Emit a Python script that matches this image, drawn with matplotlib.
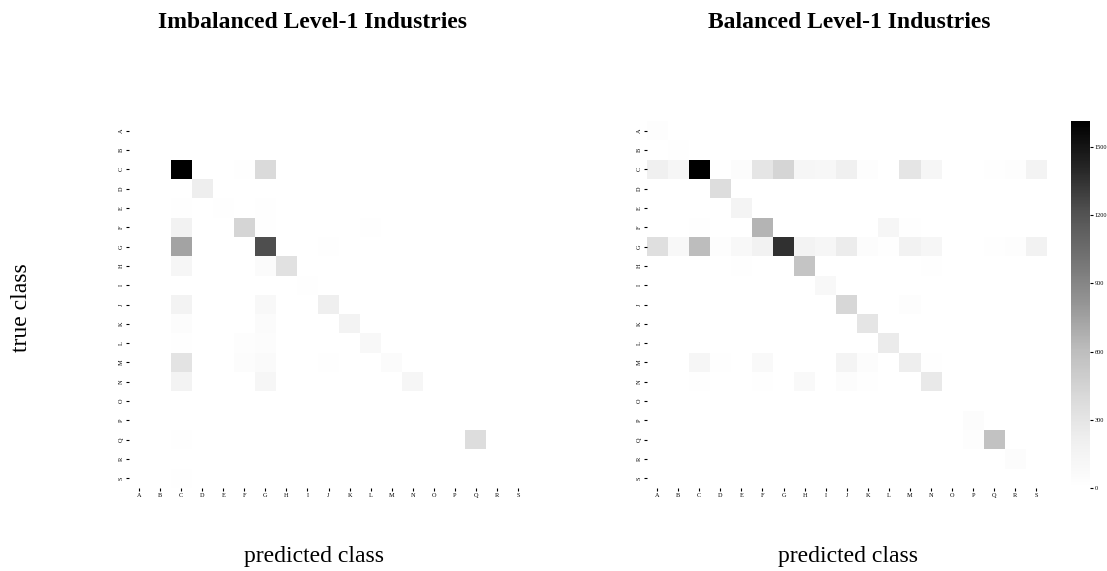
import numpy as np
import matplotlib
matplotlib.use("Agg")
import matplotlib.pyplot as plt

labels = list("ABCDEFGHIJKLMNOPQRS")

# Imbalanced confusion matrix (rows = true, cols = predicted)
imb_rows = {
    "A": {"G": 10},
    "B": {"C": 10},
    "C": {"C": 1610, "F": 20, "G": 400, "H": 5, "J": 5},
    "D": {"C": 10, "D": 220, "G": 5},
    "E": {"C": 20, "E": 25, "G": 20},
    "F": {"C": 180, "F": 430, "G": 15, "L": 15},
    "G": {"C": 740, "F": 5, "G": 1230, "J": 20, "Q": 10},
    "H": {"C": 130, "G": 60, "H": 340},
    "I": {"G": 5, "I": 20},
    "J": {"C": 170, "G": 100, "J": 210, "M": 5},
    "K": {"C": 50, "G": 55, "K": 170},
    "L": {"C": 20, "F": 30, "G": 40, "L": 100},
    "M": {"C": 320, "F": 40, "G": 70, "J": 20, "M": 60},
    "N": {"C": 160, "F": 8, "G": 120, "J": 5, "N": 130},
    "O": {},
    "P": {"P": 5, "Q": 5},
    "Q": {"C": 20, "G": 5, "Q": 370},
    "R": {"R": 5},
    "S": {"C": 20, "G": 5, "Q": 5},
}

# Balanced confusion matrix
bal_rows = {
    "A": {"A": 30},
    "B": {"B": 20},
    "C": {"A": 200, "B": 130, "C": 1610, "D": 10, "E": 40, "F": 300, "G": 430,
          "H": 130, "I": 110, "J": 200, "K": 30, "M": 300, "N": 130, "Q": 20,
          "R": 30, "S": 160},
    "D": {"D": 370, "O": 5},
    "E": {"B": 8, "E": 150},
    "F": {"C": 15, "F": 650, "H": 10, "L": 130, "M": 15, "S": 5},
    "G": {"A": 350, "B": 100, "C": 610, "D": 30, "E": 100, "F": 180, "G": 1360,
          "H": 160, "I": 130, "J": 240, "K": 40, "L": 20, "M": 180, "N": 130,
          "Q": 20, "R": 30, "S": 180},
    "H": {"A": 10, "E": 15, "H": 560, "M": 5, "N": 15},
    "I": {"I": 100},
    "J": {"C": 8, "H": 5, "J": 420, "K": 12, "M": 30, "S": 5},
    "K": {"C": 8, "J": 5, "K": 300},
    "L": {"F": 10, "L": 250},
    "M": {"C": 130, "D": 15, "F": 80, "H": 10, "J": 150, "K": 40, "M": 220,
          "N": 15, "S": 8},
    "N": {"C": 15, "F": 20, "H": 80, "J": 40, "K": 20, "M": 10, "N": 260, "S": 5},
    "O": {},
    "P": {"P": 40},
    "Q": {"O": 10, "P": 30, "Q": 570},
    "R": {"R": 40},
    "S": {"C": 5, "J": 10, "Q": 5},
}

titles = ["Imbalanced Level-1 Industries", "Balanced Level-1 Industries"]
xlabel = "predicted class"
ylabel = "true class"
cbar_ticks = [0, 300, 600, 900, 1200, 1500]
vmax = 1615


def to_matrix(rows):
    m = np.zeros((len(labels), len(labels)))
    for r, cols in rows.items():
        for c, v in cols.items():
            m[labels.index(r), labels.index(c)] = v
    return m


plt.rcParams["font.family"] = ["Liberation Serif", "DejaVu Serif"]

fig = plt.figure(figsize=(11.07, 5.71), dpi=100)
W, H = 1107, 571


def rect(x0, y0, x1, y1):
    return [x0 / W, 1 - y1 / H, (x1 - x0) / W, (y1 - y0) / H]


ax1 = fig.add_axes(rect(128.5, 121, 528.5, 488))
ax2 = fig.add_axes(rect(646.5, 121, 1047, 488))
cax = fig.add_axes(rect(1071, 121, 1090, 488))

mats = [to_matrix(imb_rows), to_matrix(bal_rows)]
im = None
for ax, m in zip([ax1, ax2], mats):
    im = ax.pcolormesh(np.arange(len(labels) + 1), np.arange(len(labels) + 1), m,
                       cmap="Greys", vmin=0, vmax=vmax)
    ax.set_xlim(0, len(labels))
    ax.set_ylim(len(labels), 0)
    ax.set_xticks(np.arange(len(labels)) + 0.5)
    ax.set_yticks(np.arange(len(labels)) + 0.5)
    ax.set_xticklabels(labels, fontsize=4.5)
    ax.set_yticklabels(labels, fontsize=4.5, rotation=90, va="center")
    ax.tick_params(length=2, width=0.8, pad=1.5)
    for s in ax.spines.values():
        s.set_visible(False)

cb = fig.colorbar(im, cax=cax)
cb.set_ticks(cbar_ticks)
cb.ax.tick_params(labelsize=4.5, length=2, width=0.8, pad=1.5)
cb.outline.set_visible(False)

fs = 17
fig.text(313 / W, 1 - 28 / H, titles[0], ha="center", va="baseline",
         fontsize=fs, fontweight="bold")
fig.text(849.5 / W, 1 - 28 / H, titles[1], ha="center", va="baseline",
         fontsize=fs, fontweight="bold")
fig.text(313.5 / W, 1 - 562 / H, xlabel, ha="center", va="baseline",
         fontsize=fs)
fig.text(848 / W, 1 - 562 / H, xlabel, ha="center", va="baseline",
         fontsize=fs)
fig.text(22 / W, 1 - 308 / H, ylabel, ha="center", va="center",
         fontsize=fs, rotation=90)

fig.savefig("out.png", dpi=100)
